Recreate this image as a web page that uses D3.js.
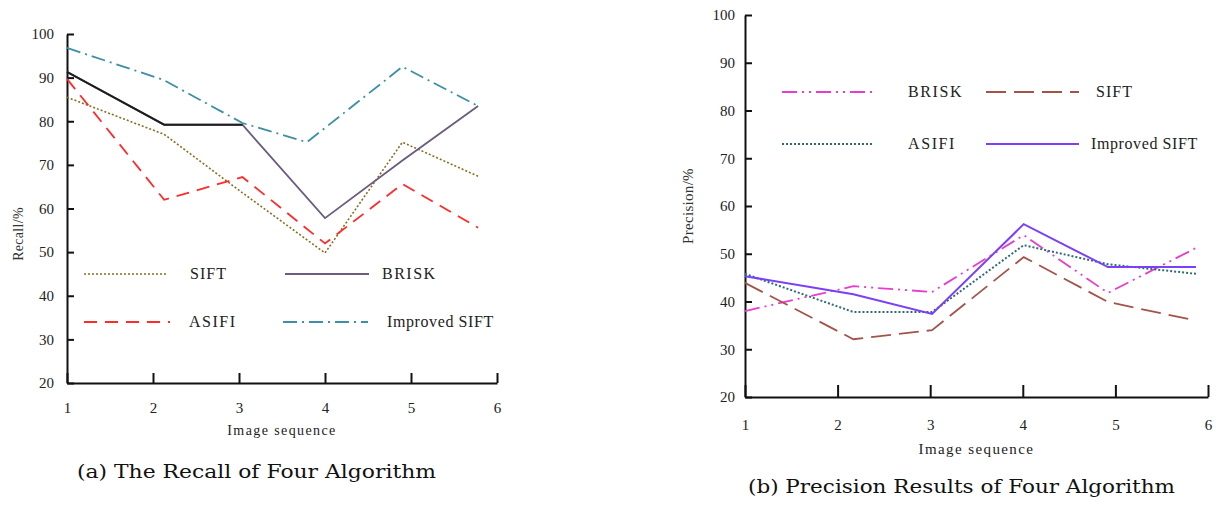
<!DOCTYPE html>
<html><head><meta charset="utf-8">
<script src="https://cdn.jsdelivr.net/npm/d3@7"></script>
<style>
html,body{margin:0;padding:0;background:#fff;}
svg{display:block;}
</style></head>
<body>
<svg id="c" width="1218" height="509"></svg>
<script>
// ---------- Data ----------
const tickLabels = [1, 2, 3, 4, 5, 6];
const yTicks = [20, 30, 40, 50, 60, 70, 80, 90, 100];

// (a) Recall — sequence positions as drawn, then values (%)
const recallX = [1, 2.13, 3.04, 4, 4.9, 5.78];
const recallImprovedX = [1, 2.12, 3.04, 3.79, 4.9, 5.78];
const recallSIFT = [85.5, 77, 63.6, 49.8, 75.2, 67.4];
const recallBRISK = [91.3, 79.2, 79.2, 57.8, 71, 83.5];
const recallASIFI = [89.7, 62, 67.2, 52, 65.6, 55.6];
const recallImproved = [96.8, 89.5, 79.6, 75.2, 92.5, 83.5];

// (b) Precision
const precX = [1, 2.17, 3.02, 4.01, 4.92, 5.87];
const precBRISK = [38, 43.2, 42, 53.9, 41.8, 51.2];
const precSIFT = [43.9, 32.1, 34, 49.3, 39.9, 36];
const precASIFI = [45.8, 37.8, 37.8, 51.8, 47.8, 45.8];
const precImproved = [45.3, 41.5, 37.4, 56.2, 47.2, 47.2];

const FONT = "'Liberation Serif', 'Times New Roman', Tinos, 'DejaVu Serif', serif";
const svg = d3.select("#c");

function drawChart(o) {
  const x = d3.scaleLinear().domain([1, 6]).range(o.xr);
  const y = d3.scaleLinear().domain([20, 100]).range(o.yr);
  const g = svg.append("g");

  // y axis
  const ya = g.append("g").attr("transform", `translate(${o.xr[0]},0)`)
    .call(d3.axisLeft(y).tickValues(yTicks).tickSizeInner(-7).tickSizeOuter(0).tickPadding(o.yPad));
  // x axis
  const xa = g.append("g").attr("transform", `translate(0,${o.yr[0]})`)
    .call(d3.axisBottom(x).tickValues(tickLabels).tickFormat(d3.format("d")).tickSizeInner(-o.xTick).tickSizeOuter(0).tickPadding(o.xPad));
  [ya, xa].forEach(a => a.attr("font-family", null).attr("font-size", null)
    .selectAll("text").style("font-family", FONT).style("font-size", "15px").attr("fill", "#222"));
  g.selectAll(".domain, .tick line").attr("stroke", "#111").attr("stroke-width", 2);

  // axis titles
  g.append("text").attr("x", (o.xr[0] + o.xr[1]) / 2 + o.xtDx).attr("y", o.xtY)
    .attr("text-anchor", "middle").style("font-family", FONT).style("font-size", o.xtSize + "px")
    .style("letter-spacing", "1.4px").attr("fill", "#222").text("Image sequence");
  g.append("text").attr("transform", `translate(${o.ytX},${o.ytY}) rotate(-90)`)
    .attr("text-anchor", "middle").style("font-family", FONT).style("font-size", o.ytSize + "px")
    .style("letter-spacing", "0.3px").attr("fill", "#333").text(o.yTitle);

  // lines
  o.series.forEach(s => {
    const xs = s.x || o.xs;
    const pts = s.values.map((v, i) => [x(xs[i]), y(v)]);
    const line = d3.line();
    g.append("path").attr("d", line(pts)).attr("fill", "none")
      .attr("stroke", s.color).attr("stroke-width", s.w || 1.8)
      .attr("stroke-dasharray", s.dash || null).attr("stroke-linejoin", "miter");
    if (s.overlay) {
      g.append("path").attr("d", line(pts.slice(0, s.overlay.n))).attr("fill", "none")
        .attr("stroke", s.overlay.color).attr("stroke-width", 2);
    }
  });

  // legend
  o.legend.forEach(l => {
    const s = o.series[l.i];
    g.append("line").attr("x1", l.x1).attr("x2", l.x2).attr("y1", l.y).attr("y2", l.y)
      .attr("stroke", s.color).attr("stroke-width", s.w || 1.8).attr("stroke-dasharray", s.dash || null);
    g.append("text").attr("x", l.tx).attr("y", l.y + 5).style("font-family", FONT).style("font-size", "16px")
      .style("letter-spacing", l.ls || "1px").attr("fill", "#222").text(s.name);
  });
}

drawChart({
  xr: [67, 497], yr: [383, 34], xs: recallX, yPad: 13, xTick: 10, xPad: 19,
  xtDx: 0, xtY: 435, xtSize: 14, ytX: 23, ytY: 234, ytSize: 14, yTitle: "Recall/%",
  series: [
    { name: "SIFT", values: recallSIFT, color: "#8a6d1f", dash: "2,2", w: 1.6 },
    { name: "BRISK", values: recallBRISK, color: "#6b5b7e", w: 1.8, overlay: { n: 3, color: "#1d1d1d" } },
    { name: "ASIFI", values: recallASIFI, color: "#ff2b2b", dash: "13,8", w: 1.8 },
    { name: "Improved SIFT", values: recallImproved, x: recallImprovedX, color: "#3b8fa6", dash: "14,5,2,5", w: 1.8 }
  ],
  legend: [
    { i: 0, x1: 84, x2: 167, y: 274, tx: 190, ls: "1px" },
    { i: 1, x1: 285, x2: 369, y: 274, tx: 382, ls: "1.5px" },
    { i: 2, x1: 84, x2: 170, y: 322, tx: 189, ls: "1.5px" },
    { i: 3, x1: 283, x2: 368, y: 322, tx: 387, ls: "0.6px" }
  ]
});

drawChart({
  xr: [745, 1208], yr: [397, 15], xs: precX, yPad: 10, xTick: 12, xPad: 22,
  xtDx: 0, xtY: 454, xtSize: 15, ytX: 693, ytY: 206, ytSize: 15, yTitle: "Precision/%",
  series: [
    { name: "BRISK", values: precBRISK, color: "#e83ccf", dash: "15,5,2,5,2,5", w: 1.8 },
    { name: "SIFT", values: precSIFT, color: "#a4534b", dash: "20,8", w: 1.8 },
    { name: "ASIFI", values: precASIFI, color: "#2e6b79", dash: "2,2", w: 2 },
    { name: "Improved SIFT", values: precImproved, color: "#7b3ff5", w: 2 }
  ],
  legend: [
    { i: 0, x1: 782, x2: 873, y: 92, tx: 908, ls: "1.6px" },
    { i: 1, x1: 986, x2: 1079, y: 92, tx: 1096, ls: "1px" },
    { i: 2, x1: 782, x2: 873, y: 144, tx: 908, ls: "1.6px" },
    { i: 3, x1: 986, x2: 1079, y: 144, tx: 1091, ls: "0.6px" }
  ]
});

// captions
const CAPFONT = "'DejaVu Serif', 'Liberation Serif', serif";
svg.append("text").attr("x", 77).attr("y", 478)
  .attr("textLength", 359).attr("lengthAdjust", "spacingAndGlyphs")
  .style("font-family", CAPFONT).style("font-size", "19px").attr("fill", "#111")
  .text("(a) The Recall of Four Algorithm");
svg.append("text").attr("x", 748).attr("y", 493)
  .attr("textLength", 427).attr("lengthAdjust", "spacingAndGlyphs")
  .style("font-family", CAPFONT).style("font-size", "19px").attr("fill", "#111")
  .text("(b) Precision Results of Four Algorithm");
</script>
</body></html>
